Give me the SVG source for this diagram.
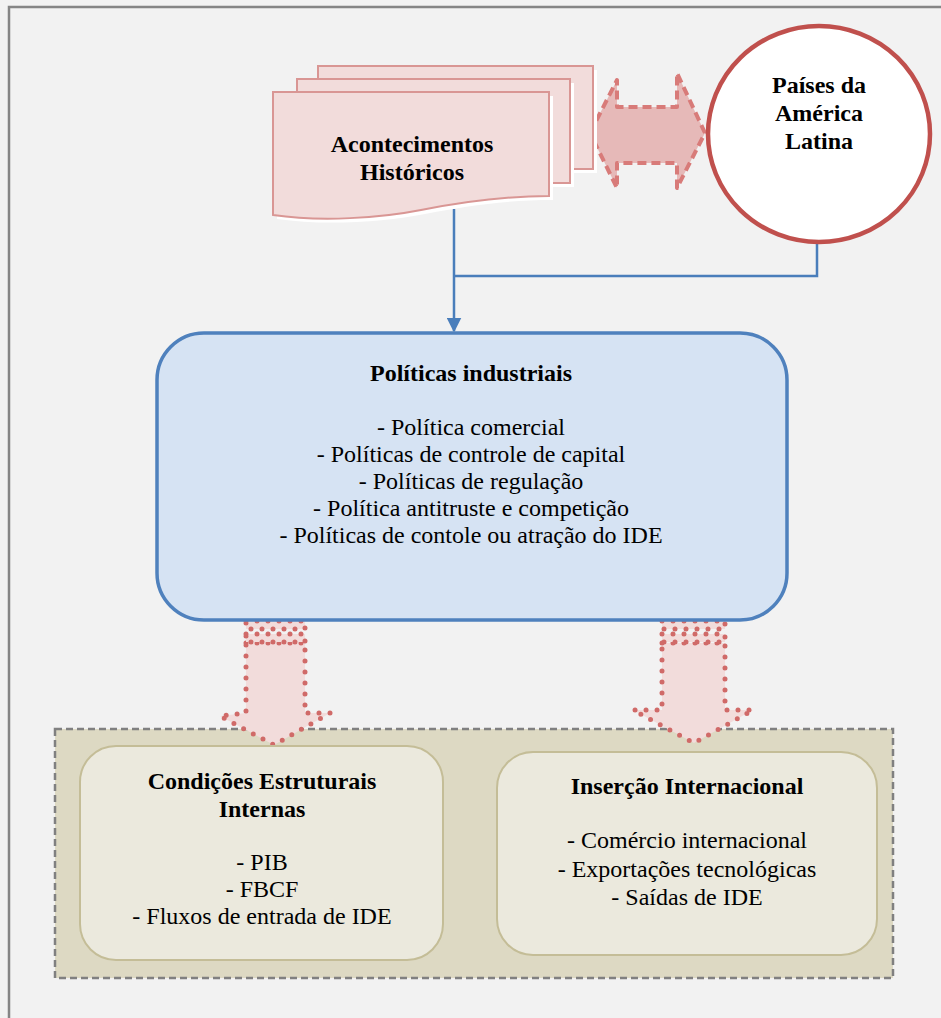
<svg xmlns="http://www.w3.org/2000/svg" width="941" height="1018" viewBox="0 0 941 1018">
  <defs>
    <marker id="arrowBlue" viewBox="0 0 10 10" refX="9" refY="5" markerWidth="15" markerHeight="15" markerUnits="userSpaceOnUse" orient="auto">
      <path d="M0,0 L10,5 L0,10 Z" fill="#4a7ebb"/>
    </marker>
  </defs>
  <style>
    text { font-family: "Liberation Serif", "Times New Roman", serif; font-size: 24px; fill: #000; text-anchor: middle; }
    .bold { font-weight: bold; }
    .page { fill: #f2dcdb; stroke: #d99694; stroke-width: 2; }
    .shadow { fill: #ffffff; }
    .dotted { fill: #f2dcdb; stroke: #d06a68; stroke-width: 5; stroke-dasharray: 0 11; stroke-linecap: round; stroke-linejoin: round; }
    .stripe { fill: #f2dcdb; stroke: #d06a68; stroke-width: 5; stroke-dasharray: 0 11; stroke-linecap: round; }
    .conn { fill: none; stroke: #4a7ebb; stroke-width: 2.5; }
    .inner { fill: #ebe9dd; stroke: #c4bd97; stroke-width: 2; }
  </style>

  <!-- page background and frame -->
  <rect x="0" y="0" width="941" height="1018" fill="#f2f2f2"/>
  <rect x="9" y="7" width="945" height="1030" fill="#f2f2f2" stroke="#858585" stroke-width="2.5"/>

  <!-- outcome container -->
  <g id="resultados">
    <rect x="55" y="729" width="838" height="249" fill="#ddd9c3" stroke="#808080" stroke-width="2.5" stroke-dasharray="7 4"/>
  </g>

  <!-- connectors -->
  <g id="connectors">
    <path class="conn" d="M454,209 V331" marker-end="url(#arrowBlue)"/>
    <path class="conn" d="M817,243 V276 H454"/>
    <!-- two-way link between documents and circle -->
    <path d="M590,133 L617,80 V107 H677 V73 L705,133 L677,188 V163 H617 V188 Z" fill="#e6b9b8" stroke="#d87b79" stroke-width="4" stroke-dasharray="9 5" stroke-linejoin="round"/>
    <!-- striped dotted down arrow, left -->
    <path class="dotted" d="M246,643 H305 V713 H330 L274,745 L220,716 L246,713 Z"/>
    <rect class="stripe" x="246" y="621" width="59" height="8"/>
    <rect class="stripe" x="246" y="634" width="59" height="8"/>
    <!-- striped dotted down arrow, right -->
    <path class="dotted" d="M662,643 H725 V710 H753 L694,743 L633,710 L662,710 Z"/>
    <rect class="stripe" x="662" y="621" width="63" height="8"/>
    <rect class="stripe" x="662" y="634" width="63" height="8"/>
  </g>

  <!-- historical events: stacked documents -->
  <g id="acontecimentos">
    <rect class="shadow" x="322" y="70" width="275" height="103"/>
    <rect class="page" x="318" y="66" width="275" height="103"/>
    <rect class="shadow" x="301" y="83" width="273" height="104"/>
    <rect class="page" x="297" y="79" width="273" height="104"/>
    <path class="shadow" d="M277,96 H553 V200 C505,200 465,206 425,214 C385,222 325,226 277,219 Z"/>
    <path class="page" d="M273,92 H549 V196 C501,196 461,202 421,210 C381,218 321,222 273,215 Z"/>
    <text class="bold" x="412" y="152">Acontecimentos</text>
    <text class="bold" x="412" y="180">Históricos</text>
  </g>

  <!-- Latin American countries -->
  <g id="paises">
    <ellipse cx="819" cy="134" rx="111" ry="108" fill="#ffffff" stroke="#c0504d" stroke-width="4.5"/>
    <text class="bold" x="819" y="93">Países da</text>
    <text class="bold" x="819" y="121">América</text>
    <text class="bold" x="819" y="149">Latina</text>
  </g>

  <!-- industrial policies -->
  <g id="politicas">
    <rect x="157" y="333" width="630" height="287" rx="47" ry="47" fill="#d6e3f3" stroke="#4f81bd" stroke-width="3.5"/>
    <text class="bold" x="471" y="381">Políticas industriais</text>
    <text x="471" y="435">- Política comercial</text>
    <text x="471" y="462">- Políticas de controle de capital</text>
    <text x="471" y="489">- Políticas de regulação</text>
    <text x="471" y="516">- Política antitruste e competição</text>
    <text x="471" y="543">- Políticas de contole ou atração do IDE</text>
  </g>

  <g id="condicoes">
    <rect class="inner" x="80" y="746" width="363" height="214" rx="36" ry="36"/>
    <text class="bold" x="262" y="789">Condições Estruturais</text>
    <text class="bold" x="262" y="817">Internas</text>
    <text x="262" y="870">- PIB</text>
    <text x="262" y="897">- FBCF</text>
    <text x="262" y="924">- Fluxos de entrada de IDE</text>
  </g>

  <g id="insercao">
    <rect class="inner" x="497" y="752" width="380" height="203" rx="36" ry="36"/>
    <text class="bold" x="687" y="794">Inserção Internacional</text>
    <text x="687" y="848">- Comércio internacional</text>
    <text x="687" y="877">- Exportações tecnológicas</text>
    <text x="687" y="905">- Saídas de IDE</text>
  </g>
</svg>
